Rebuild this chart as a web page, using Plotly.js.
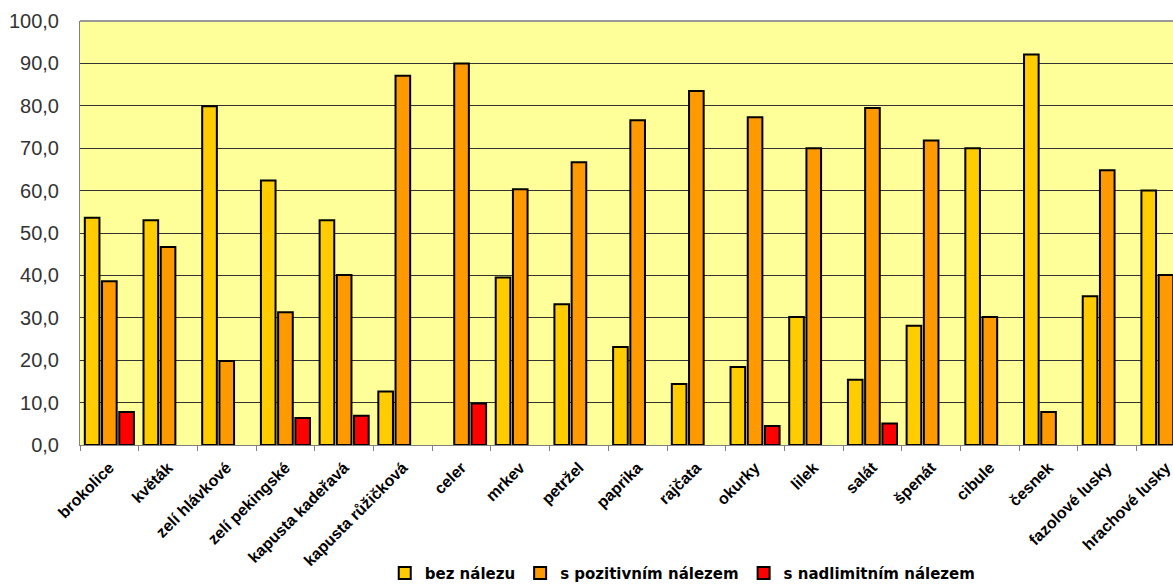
<!DOCTYPE html>
<html>
<head>
<meta charset="utf-8">
<script src="https://cdn.plot.ly/plotly-3.0.1.min.js"></script>
<style>html,body{margin:0;padding:0;background:#fff;}#chart{width:1173px;height:585px;}</style>
</head>
<body>
<div id="chart"></div>
<script>
const categories = ["brokolice","květák","zelí hlávkové","zelí pekingské","kapusta kadeřavá","kapusta růžičková","celer","mrkev","petržel","paprika","rajčata","okurky","lilek","salát","špenát","cibule","česnek","fazolové lusky","hrachové lusky"];
const bezNalezu =      [53.6, 53.0, 79.9, 62.4, 53.0, 12.6, null, 39.5, 33.2, 23.1, 14.4, 18.4, 30.2, 15.4, 28.1, 70.0, 92.1, 35.1, 60.0];
const sPozitivnim =    [38.6, 46.7, 19.8, 31.3, 40.1, 87.1, 90.0, 60.3, 66.7, 76.6, 83.5, 77.3, 70.0, 79.5, 71.8, 30.2, 7.8,  64.8, 40.1];
const sNadlimitnim =   [7.8,  null, null, 6.35, 6.9,  null, 9.8,  null, null, null, null, 4.5,  null, 5.1,  null, null, null, null, null];
const seriesNames = ["bez nálezu","s pozitivním nálezem","s nadlimitním nálezem"];
const yTicks = [0,10,20,30,40,50,60,70,80,90,100];

const colors = ["#FFCC00","#FF9900","#FF0000"];
const data = [bezNalezu, sPozitivnim, sNadlimitnim].map((vals, i) => ({
  type: "bar",
  name: seriesNames[i],
  x: categories,
  y: vals,
  marker: {color: colors[i], line: {color: "#000", width: 2}},
  hoverinfo: "x+y"
}));

const layout = {
  width: 1173, height: 585,
  margin: {l: 80, r: 0, t: 21, b: 140},
  paper_bgcolor: "#fff",
  plot_bgcolor: "#FFFF99",
  separators: ", ",
  barmode: "group",
  bargap: 0.12,
  bargroupgap: 0.15,
  font: {family: "Arial, Liberation Sans, sans-serif", color: "#000"},
  xaxis: {
    type: "category",
    range: [-0.5, 18.12],
    tickangle: -45,
    tickfont: {size: 16, family: "Arial, Liberation Sans, sans-serif", weight: "bold", color: "#000"},
    tickson: "boundaries",
    ticks: "outside", ticklen: 5, tickcolor: "#808080", tickwidth: 1,
    ticklabelstandoff: 6,
    showline: true, linecolor: "#808080", linewidth: 1,
    showgrid: false, fixedrange: true
  },
  yaxis: {
    range: [0, 100],
    tickvals: yTicks,
    tickformat: ".1f",
    tickfont: {size: 20, color: "#333"},
    ticklabelstandoff: 16,
    showgrid: true, gridcolor: "#333", gridwidth: 1,
    showline: true, linecolor: "#808080", linewidth: 1,
    zeroline: false, ticks: "", fixedrange: true
  },
  shapes: [{type: "line", xref: "paper", yref: "paper", x0: 0, x1: 1, y0: 1, y1: 1, line: {color: "#999", width: 2}}],
  showlegend: true,
  legend: {
    orientation: "h",
    xref: "container", yref: "container",
    x: 0.328, xanchor: "left",
    y: 0.02, yanchor: "middle",
    font: {size: 15, family: "DejaVu Sans, Verdana, sans-serif", weight: "bold", color: "#000"},
    itemwidth: 30,
    tracegroupgap: 0,
    bgcolor: "rgba(0,0,0,0)"
  }
};

Plotly.newPlot("chart", data, layout, {displayModeBar: false, staticPlot: true});
</script>
</body>
</html>
